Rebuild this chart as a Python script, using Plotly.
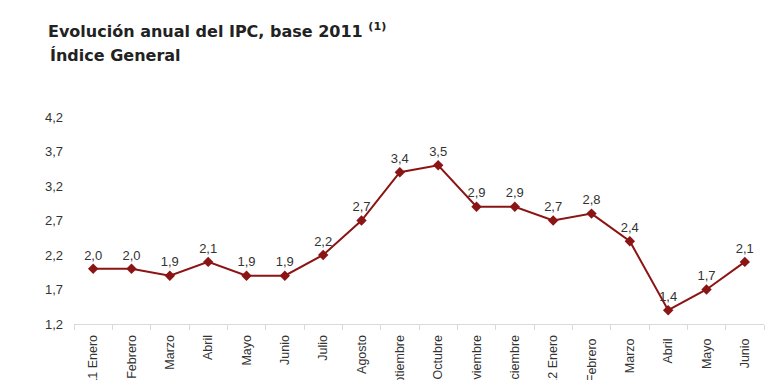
import plotly.graph_objects as go

categories = ["2011 Enero", "Febrero", "Marzo", "Abril", "Mayo", "Junio", "Julio", "Agosto",
              "Septiembre", "Octubre", "Noviembre", "Diciembre", "2012 Enero", "Febrero ", "Marzo ",
              "Abril ", "Mayo ", "Junio "]
values = [2.0, 2.0, 1.9, 2.1, 1.9, 1.9, 2.2, 2.7, 3.4, 3.5, 2.9, 2.9, 2.7, 2.8, 2.4, 1.4, 1.7, 2.1]
y_ticks = [1.2, 1.7, 2.2, 2.7, 3.2, 3.7, 4.2]

sans = "Liberation Sans, Arial, sans-serif"
title_font = dict(family="DejaVu Sans, Verdana, sans-serif", size=16, color="#222222", weight="bold")

fig = go.Figure()
fig.add_trace(go.Scatter(
    x=categories, y=values, mode="lines+markers+text",
    line=dict(color="#8B1414", width=2),
    marker=dict(symbol="diamond", size=8, color="#8B1414"),
    texttemplate="%{y:.1f}", textposition="top center",
    textfont=dict(family=sans, size=13, color="#333333"),
    cliponaxis=False, hoverinfo="skip",
))

fig.update_layout(
    width=770, height=380,
    margin=dict(l=74, r=6, t=117, b=56),
    paper_bgcolor="white", plot_bgcolor="white",
    separators=",.",
    showlegend=False,
    title=dict(
        text="Evolución anual del IPC, base 2011 <sup>(1)</sup>",
        x=48/770, xanchor="left", y=1 - 26/380, yanchor="top", pad=dict(l=0, t=0),
        font=title_font,
    ),
    xaxis=dict(
        type="category", range=[-0.5, 17.5], automargin=False,
        showline=True, linecolor="#D9D9D9", linewidth=1,
        ticks="outside", tickson="boundaries", ticklen=5, tickcolor="#D9D9D9",
        tickangle=-90, showgrid=False, zeroline=False, ticklabelstandoff=5,
        tickfont=dict(family=sans, size=12.5, color="#333333"),
    ),
    yaxis=dict(
        range=[1.2, 4.2], tickvals=y_ticks, tickformat=".1f", automargin=False,
        showline=False, showgrid=False, zeroline=False,
        ticks="", ticklabelstandoff=10,
        tickfont=dict(family=sans, size=13, color="#333333"),
    ),
    annotations=[dict(
        text="Índice General", xref="paper", yref="paper",
        x=-26/696, xanchor="left", y=(324 - 44) / 207, yanchor="top",
        showarrow=False, font=title_font,
    )],
)

fig.write_html("out.html", config={"displayModeBar": False},
               post_script="document.body.style.margin='0';")
